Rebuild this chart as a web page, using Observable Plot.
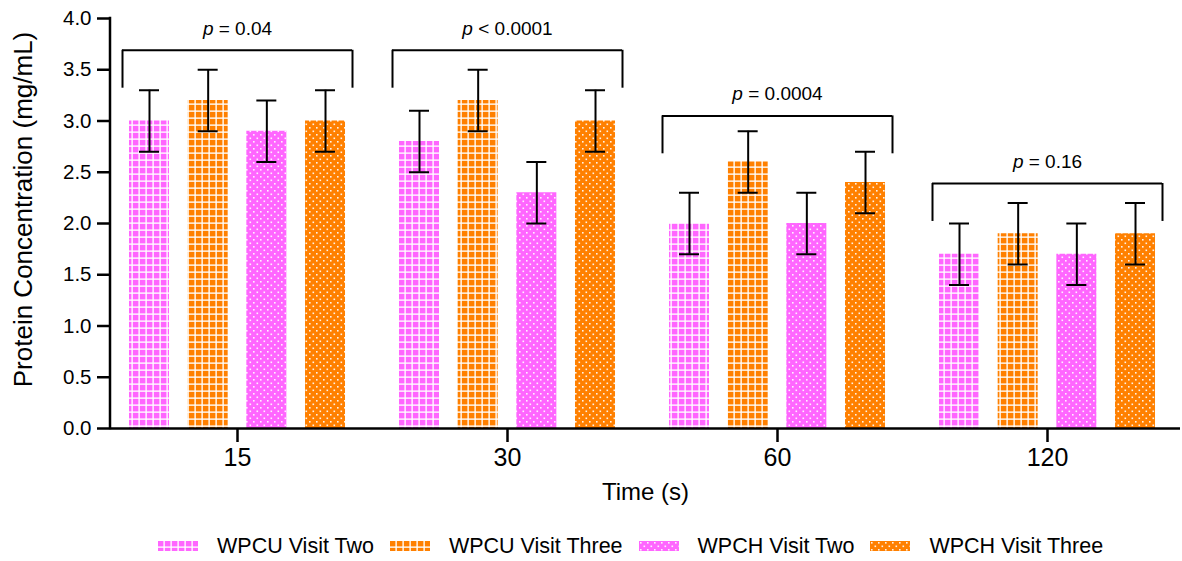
<!DOCTYPE html>
<html><head><meta charset="utf-8">
<script src="https://cdn.jsdelivr.net/npm/d3@7"></script>
<script src="https://cdn.jsdelivr.net/npm/@observablehq/plot@0.6"></script>
<style>
html,body{margin:0;padding:0;background:#fff;}
body{font-family:"Liberation Sans",Arial,sans-serif;width:1182px;height:561px;overflow:hidden;}
#legend{display:flex;align-items:center;height:41px;padding-left:158px;padding-top:11px;box-sizing:border-box;font-size:21.5px;color:#000;}
#legend .item{display:flex;align-items:center;margin-right:16px;}
#legend svg{margin-right:19px;display:block;}
</style></head><body><div id="chart"></div><div id="legend"></div>
<script>
// ---- data ----
const times = ["15", "30", "60", "120"];
const seriesNames = ["WPCU Visit Two", "WPCU Visit Three", "WPCH Visit Two", "WPCH Visit Three"];
const wpcuVisitTwo   = [3.0, 2.8, 2.0, 1.7];
const wpcuVisitThree = [3.2, 3.2, 2.6, 1.9];
const wpchVisitTwo   = [2.9, 2.3, 2.0, 1.7];
const wpchVisitThree = [3.0, 3.0, 2.4, 1.9];
const wpcuVisitTwoErr   = [0.3, 0.3, 0.3, 0.3];
const wpcuVisitThreeErr = [0.3, 0.3, 0.3, 0.3];
const wpchVisitTwoErr   = [0.3, 0.3, 0.3, 0.3];
const wpchVisitThreeErr = [0.3, 0.3, 0.3, 0.3];
const pValueLabels = ["= 0.04", "< 0.0001", "= 0.0004", "= 0.16"];
const bracketTops = [3.69, 3.69, 3.05, 2.39];
const yTicks = [0, 0.5, 1.0, 1.5, 2.0, 2.5, 3.0, 3.5, 4.0];

const seriesMeans = [wpcuVisitTwo, wpcuVisitThree, wpchVisitTwo, wpchVisitThree];
const seriesErrs = [wpcuVisitTwoErr, wpcuVisitThreeErr, wpchVisitTwoErr, wpchVisitThreeErr];
const rows = [];
seriesNames.forEach((s, i) => times.forEach((t, j) => rows.push({series: s, si: i, time: t, mean: seriesMeans[i][j], err: seriesErrs[i][j]})));
const brackets = times.map((t, j) => ({time: t, top: bracketTops[j], label: "p " + pValueLabels[j]}));

// ---- styling ----
const bandStep = 270, barW = 40, barPitch = 58.67, groupPad = 27, legLen = 0.37;
const insetL = i => groupPad + i * barPitch;
const insetR = i => bandStep - barW - insetL(i);
const pink = "#ff66ff", orange = "#ff8000";

const defsMark = () => {
  const ns = "http://www.w3.org/2000/svg";
  const defs = document.createElementNS(ns, "defs");
  const grid = (id, c) => `<pattern id="${id}" patternUnits="userSpaceOnUse" width="7" height="7"><rect width="7" height="7" fill="${c}"/><rect x="5.3" width="1.7" height="7" fill="#fff" fill-opacity="0.8"/><rect y="5.3" width="7" height="1.7" fill="#fff" fill-opacity="0.8"/></pattern>`;
  const dots = (id, c) => `<pattern id="${id}" patternUnits="userSpaceOnUse" width="7" height="7"><rect width="7" height="7" fill="${c}"/><rect x="1" y="1" width="1.6" height="1.6" fill="#fff" fill-opacity="0.9"/><rect x="4.5" y="4.5" width="1.6" height="1.6" fill="#fff" fill-opacity="0.9"/></pattern>`;
  defs.innerHTML = grid("pat0", pink) + grid("pat1", orange) + dots("pat2", pink) + dots("pat3", orange);
  return defs;
};

const yAxisLine = (index, scales, values, dims) => {
  const ns = "http://www.w3.org/2000/svg";
  const l = document.createElementNS(ns, "line");
  const x = dims.marginLeft;
  l.setAttribute("x1", x); l.setAttribute("x2", x);
  l.setAttribute("y1", scales.y(4) - 1.2); l.setAttribute("y2", scales.y(0) + 1.2);
  l.setAttribute("stroke", "#000"); l.setAttribute("stroke-width", 2.5);
  return l;
};

const seriesMarks = seriesNames.flatMap((s, i) => {
  const d = rows.filter(r => r.si === i);
  const L = insetL(i), R = insetR(i), dx = L + barW / 2 - bandStep / 2;
  return [
    Plot.barY(d, {x: "time", y: "mean", fill: `url(#pat${i})`, insetLeft: L, insetRight: R}),
    Plot.ruleX(d, {x: "time", y1: r => r.mean - r.err, y2: r => r.mean + r.err, dx, stroke: "#000", strokeWidth: 2}),
    Plot.tickY(d, {x: "time", y: r => r.mean + r.err, insetLeft: L + 10, insetRight: R + 10, stroke: "#000", strokeWidth: 2}),
    Plot.tickY(d, {x: "time", y: r => r.mean - r.err, insetLeft: L + 10, insetRight: R + 10, stroke: "#000", strokeWidth: 2})
  ];
});

const chart = Plot.plot({
  width: 1182,
  height: 520,
  marginLeft: 110,
  marginRight: 2,
  marginTop: 18,
  marginBottom: 92,
  style: {fontFamily: "'Liberation Sans', Arial, sans-serif", color: "#000", background: "#fff"},
  x: {type: "band", domain: times, range: [102, 1182], padding: 0, axis: null},
  y: {domain: [0, 4], axis: null},
  marks: [
    defsMark,
    ...seriesMarks,
    Plot.ruleY([0], {stroke: "#000", strokeWidth: 2.5}),
    yAxisLine,
    Plot.axisY(yTicks, {tickFormat: d3.format(".1f"), tickSize: 13, tickPadding: 6, fontSize: 20.5, strokeWidth: 2.5, label: null}),
    Plot.axisX({tickSize: 14, tickPadding: 6, fontSize: 25, strokeWidth: 2.5, label: null}),
    Plot.tickY(brackets, {x: "time", y: "top", insetLeft: 20, insetRight: 20, stroke: "#000", strokeWidth: 2}),
    Plot.ruleX(brackets, {x: "time", y1: d => d.top - legLen, y2: "top", dx: -115, stroke: "#000", strokeWidth: 2}),
    Plot.ruleX(brackets, {x: "time", y1: d => d.top - legLen, y2: "top", dx: 115, stroke: "#000", strokeWidth: 2}),
    Plot.text(brackets, {x: "time", y: d => d.top + 0.21, text: "label", fontSize: 19, fill: "#000"}),
    Plot.text(["Time (s)"], {frameAnchor: "bottom", dy: 71, fontSize: 24, fill: "#000"}),
    Plot.text(["Protein Concentration (mg/mL)"], {frameAnchor: "left", textAnchor: "middle", dx: -87, dy: -14, rotate: -90, fontSize: 26, fill: "#000"})
  ]
});
document.getElementById("chart").appendChild(chart);

// italic "p"
chart.querySelectorAll("text").forEach(t => {
  const s = t.textContent;
  if (!/^p [=<]/.test(s)) return;
  const ns = "http://www.w3.org/2000/svg";
  t.textContent = "";
  const a = document.createElementNS(ns, "tspan"); a.setAttribute("font-style", "italic"); a.textContent = s.slice(0, 1);
  const b = document.createElementNS(ns, "tspan"); b.textContent = s.slice(1);
  t.appendChild(a); t.appendChild(b);
});

// legend
const legend = document.getElementById("legend");
seriesNames.forEach((s, i) => {
  const item = document.createElement("div");
  item.className = "item";
  item.innerHTML = `<svg width="40" height="10"><rect width="40" height="10" fill="url(#pat${i})"/></svg><span>${s}</span>`;
  legend.appendChild(item);
});
</script></body></html>
